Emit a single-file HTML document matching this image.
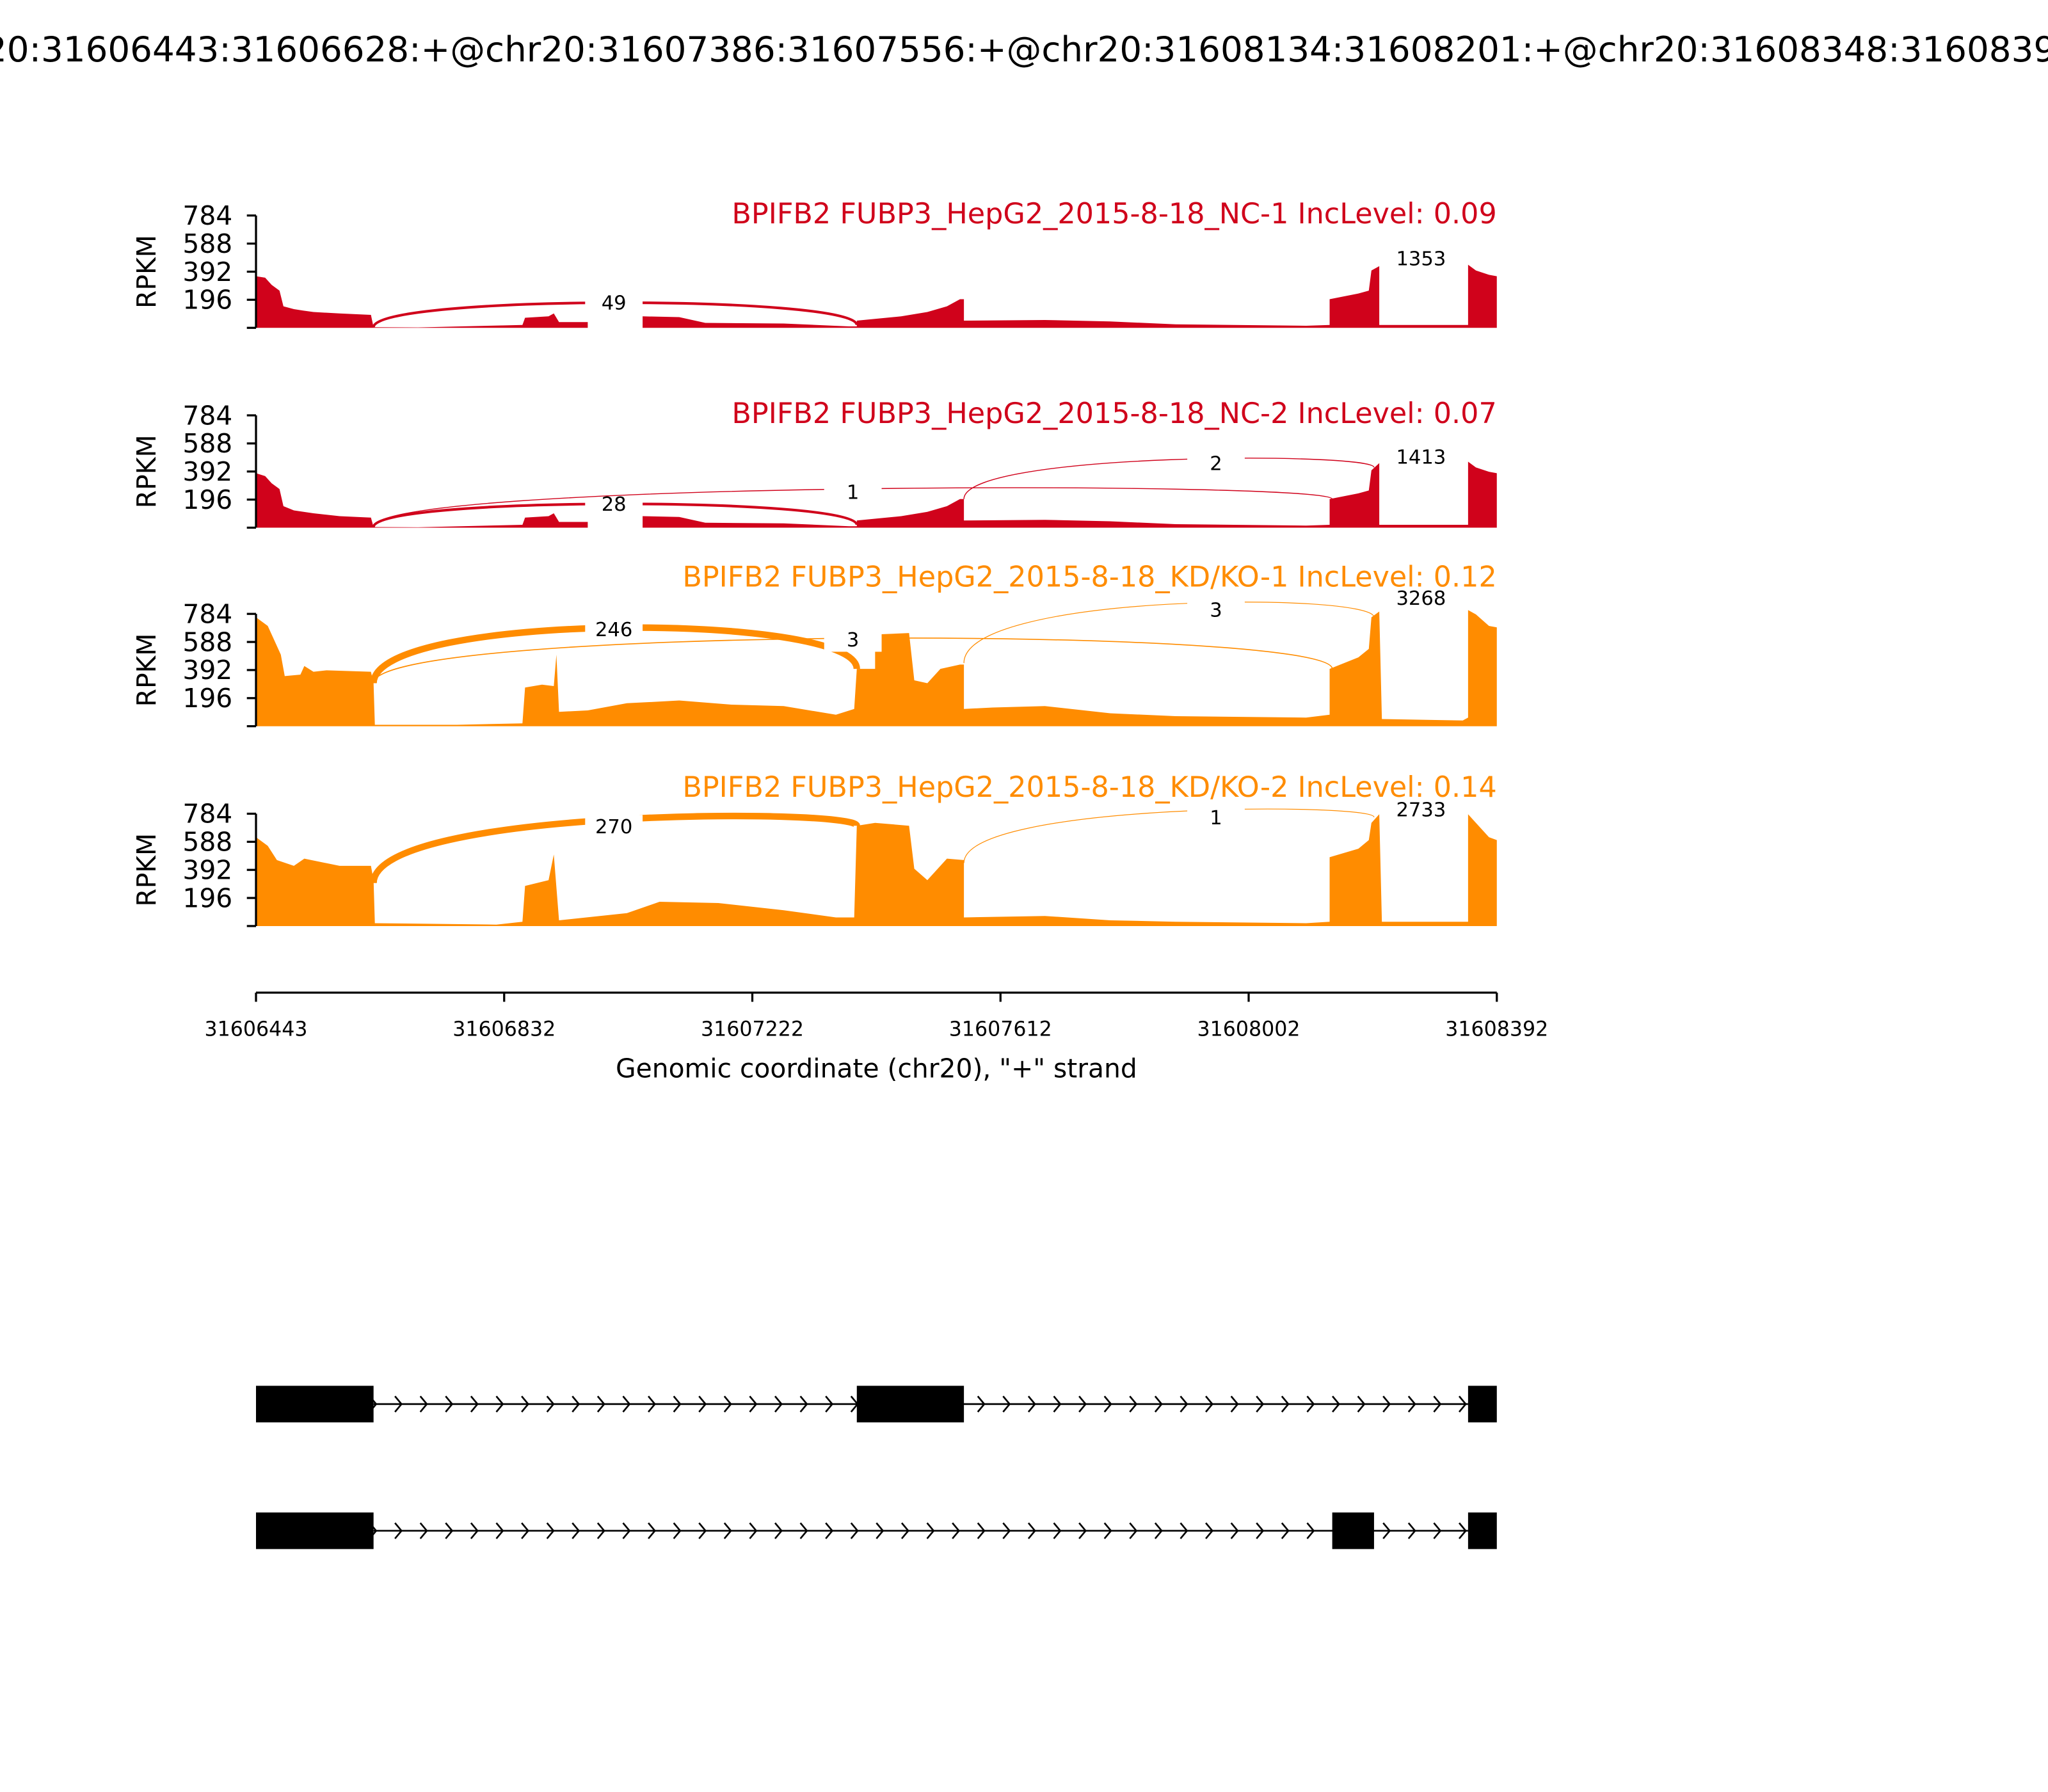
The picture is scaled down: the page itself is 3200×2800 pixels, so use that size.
<!DOCTYPE html>
<html><head><meta charset="utf-8"><style>
html,body{margin:0;padding:0;background:#fff;}
svg{display:block;font-family:"DejaVu Sans","Liberation Sans",sans-serif;}
</style></head><body>
<svg id="s" width="3200" height="2800" viewBox="0 0 1568 1372" preserveAspectRatio="none" xmlns="http://www.w3.org/2000/svg">
<rect width="1568" height="1372" fill="#fff"/>
<text x="784" y="47" font-size="26.8" text-anchor="middle">chr20:31606443:31606628:+@chr20:31607386:31607556:+@chr20:31608134:31608201:+@chr20:31608348:31608392:+</text>
<g id="panels"></g>
<g stroke="#000" stroke-width="1.6">
<line x1="196" y1="760" x2="1146" y2="760"/>
<line x1="196" y1="760" x2="196" y2="767"/><line x1="386" y1="760" x2="386" y2="767"/>
<line x1="576" y1="760" x2="576" y2="767"/><line x1="766" y1="760" x2="766" y2="767"/>
<line x1="956" y1="760" x2="956" y2="767"/><line x1="1146" y1="760" x2="1146" y2="767"/>
</g>
<g font-size="15.5" text-anchor="middle">
<text x="196" y="793">31606443</text><text x="386" y="793">31606832</text>
<text x="576" y="793">31607222</text><text x="766" y="793">31607612</text>
<text x="956" y="793">31608002</text><text x="1146" y="793">31608392</text>
</g>
<text x="671" y="825" font-size="20" text-anchor="middle">Genomic coordinate (chr20), "+" strand</text>
<g id="genes"></g>
</svg>
<script>
var NS="http://www.w3.org/2000/svg";
function el(t,a,p,txt){var e=document.createElementNS(NS,t);for(var k in a)e.setAttribute(k,a[k]);if(txt!==undefined&&txt!==null)e.textContent=txt;(p||document.getElementById('panels')).appendChild(e);return e;}
var RED="#d0021b",ORG="#ff8c00";
var panels=[
{top:165,ty:171,c:RED,title:"BPIFB2 FUBP3_HepG2_2015-8-18_NC-1 IncLevel: 0.09",
cov:[[196,360],[203,350],[208,300],[214,260],[217,150],[225,130],[232,120],[240,110],[260,100],[284,90],[286,5],[320,3],[400,20],[402,70],[420,80],[424,100],[428,40],[450,40],[450,0],[492,0],[492,80],[520,75],[540,35],[600,30],[650,10],[656,10],[656,50],[690,80],[710,110],[725,150],[735,200],[738,200],[738,50],[800,55],[850,45],[900,25],[1000,15],[1018,20],[1018,200],[1040,240],[1048,260],[1050,400],[1056,430],[1056,20],[1124,20],[1124,440],[1130,400],[1140,370],[1146,360]],
arcs:[[286,656,232,2,49,470]],labels:[[1088,198,"1353"]]},
{top:318,ty:324,c:RED,title:"BPIFB2 FUBP3_HepG2_2015-8-18_NC-2 IncLevel: 0.07",
cov:[[196,380],[203,360],[208,310],[214,270],[217,150],[225,120],[240,100],[260,80],[284,70],[286,5],[320,3],[400,20],[402,70],[420,80],[424,100],[428,40],[450,40],[450,0],[492,0],[492,80],[520,75],[540,35],[600,30],[650,10],[656,10],[656,50],[690,80],[710,110],[725,150],[735,200],[738,200],[738,50],[800,55],[850,45],[900,25],[1000,15],[1018,20],[1018,200],[1040,240],[1048,260],[1050,400],[1056,450],[1056,20],[1124,20],[1124,460],[1130,420],[1140,390],[1146,380]],
arcs:[[286,656,386,2,28,470],[286,1020,377,0.7,1,653],[738,1052,355,0.7,2,931]],labels:[[1088,350,"1413"]]},
{top:470,ty:449,c:ORG,title:"BPIFB2 FUBP3_HepG2_2015-8-18_KD/KO-1 IncLevel: 0.12",
cov:[[196,760],[205,700],[210,600],[215,500],[218,350],[230,360],[233,420],[240,380],[250,390],[284,380],[286,300],[287,10],[350,10],[400,20],[402,270],[415,290],[424,280],[426,500],[428,100],[450,110],[480,160],[500,170],[520,180],[560,150],[600,140],[640,80],[654,120],[656,400],[670,400],[670,640],[696,650],[700,320],[710,300],[720,400],[735,430],[738,430],[738,120],[760,130],[800,140],[850,90],[900,70],[1000,60],[1018,80],[1018,400],[1040,480],[1048,540],[1050,760],[1056,800],[1058,50],[1120,40],[1124,60],[1124,810],[1130,780],[1140,700],[1146,690]],
arcs:[[286,656,482,5,246,470],[286,1020,490,0.8,3,653],[738,1052,467,0.6,3,931]],labels:[[1088,458,"3268"]]},
{top:623,ty:610,c:ORG,title:"BPIFB2 FUBP3_HepG2_2015-8-18_KD/KO-2 IncLevel: 0.14",
cov:[[196,620],[205,560],[212,460],[225,420],[233,470],[260,420],[284,420],[286,320],[287,20],[380,10],[400,30],[402,280],[420,320],[424,500],[428,40],[480,90],[505,170],[550,160],[600,110],[640,60],[654,60],[656,700],[670,720],[696,700],[700,400],[710,320],[725,470],[738,460],[738,60],[800,70],[850,40],[900,30],[1000,20],[1018,30],[1018,480],[1040,540],[1048,600],[1050,720],[1056,780],[1058,30],[1124,30],[1124,780],[1130,720],[1140,620],[1146,600]],
arcs:[[286,656,633,5,270,470],[738,1052,626,0.6,1,931]],labels:[[1088,620,"2733"]]}
];
panels.forEach(function(p){
 var b=p.top+86,k=86/784;
 function Y(v){return b-Math.min(v,830)*k;}
 var d="M196 "+b;p.cov.forEach(function(q){d+=" L"+q[0]+" "+Y(q[1]).toFixed(1);});d+=" L1146 "+b+" Z";
 el('path',{d:d,fill:p.c});
 p.arcs.forEach(function(a){
  var x1=a[0],x2=a[1];
  var y1=b-(a[0]==286?(p.c==ORG?300:5):(a[0]==738?(p.c==ORG?440:200):5))*k;
  var y2;
  if(x2==656) y2=b-(p.c==ORG?(p.top==623?700:400):20)*k;
  else if(x2==1020) y2=b-(p.c==ORG?400:200)*k;
  else y2=b-(p.c==ORG?760:420)*k;
  var yb=Math.max(y1,y2), cy=yb-(yb-a[2])/0.75;
  el('path',{d:"M"+x1+" "+y1.toFixed(1)+" C"+x1+" "+cy.toFixed(1)+" "+x2+" "+cy.toFixed(1)+" "+x2+" "+y2.toFixed(1),fill:"none",stroke:p.c,"stroke-width":a[3]});
  el('rect',{x:a[5]-22,y:a[2]-9,width:44,height:18,fill:"#fff"});
  el('text',{x:a[5],y:a[2]+5,"font-size":15,"text-anchor":"middle"},null,String(a[4]));
 });
 p.labels.forEach(function(l){el('rect',{x:l[0]-28,y:l[1]-10,width:56,height:18,fill:"#fff"});el('text',{x:l[0],y:l[1]+5,"font-size":15,"text-anchor":"middle"},null,l[2]);});
 el('line',{x1:196,y1:p.top,x2:196,y2:b,stroke:"#000","stroke-width":1.6});
 [0,196,392,588,784].forEach(function(v){var y=Y(v);el('line',{x1:189,y1:y,x2:196,y2:y,stroke:"#000","stroke-width":1.6});if(v)el('text',{x:178,y:y+7,"font-size":20,"text-anchor":"end"},null,String(v));});
 el('text',{x:119,y:p.top+43,"font-size":20,"text-anchor":"middle",transform:"rotate(-90 119 "+(p.top+43)+")"},null,"RPKM");
 el('text',{x:1146,y:p.ty,"font-size":21.8,"text-anchor":"end",fill:p.c},null,p.title);
});
var g=document.getElementById('genes');
[[1075,[[196,286],[656,738],[1124,1146]]],[1172,[[196,286],[1020,1052],[1124,1146]]]].forEach(function(t){
 var y=t[0];
 el('line',{x1:286,y1:y,x2:1124,y2:y,stroke:"#000","stroke-width":1.3},g);
 var ex=t[1];
 for(var x=287;x<1130;x+=19.4){
  var inEx=ex.some(function(e){return x>e[0]+1&&x<e[1]-1;});
  if(inEx)continue;
  el('path',{d:"M"+(x-4)+" "+(y-6)+" L"+(x+1)+" "+y+" L"+(x-4)+" "+(y+6),fill:"none",stroke:"#000","stroke-width":1.3},g);
 }
 ex.forEach(function(e){el('rect',{x:e[0],y:y-14,width:e[1]-e[0],height:28,fill:"#000"},g);});
});
</script>
</body></html>
